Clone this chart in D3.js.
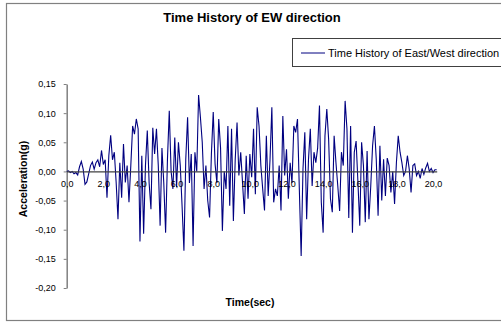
<!DOCTYPE html>
<html lang="en">
<head>
<meta charset="UTF-8">
<script src="https://cdnjs.cloudflare.com/ajax/libs/d3/7.8.5/d3.min.js"></script>
<title>Time History of EW direction</title>
<style>
  body { margin: 0; background: #fff; }
  text { font-family: "Liberation Sans", Arial, sans-serif; }
</style>
</head>
<body>
<svg id="chart" width="501" height="322"></svg>
<script>
// acceleration (g), sampled every 0.1 sec from 0.0 to 20.2
var dt = 0.1;
var accel = [
  0.000, 0.001, -0.002, 0.000, -0.004, -0.002, -0.006, 0.008, 0.017, 0.004,
  -0.022, -0.018, -0.004, 0.010, 0.016, 0.004, 0.015, 0.020, 0.008, 0.036,
  0.012, 0.020, -0.045, 0.027, 0.062, 0.020, 0.033, -0.019, -0.082, 0.015,
  -0.045, 0.047, -0.019, 0.010, -0.053, 0.010, 0.078, 0.064, 0.090, 0.073,
  -0.120, 0.027, -0.107, 0.010, 0.070, -0.020, -0.065, 0.075, 0.030, 0.073,
  0.010, -0.093, 0.040, -0.020, -0.105, 0.020, 0.104, 0.000, -0.030, 0.058,
  -0.027, 0.050, 0.010, -0.060, -0.136, 0.020, 0.093, -0.020, 0.030, -0.128,
  0.033, 0.000, 0.131, 0.093, 0.050, -0.030, 0.010, -0.050, -0.079, 0.030,
  0.102, 0.013, -0.020, 0.090, 0.040, -0.102, 0.000, -0.030, 0.078, -0.059,
  0.073, -0.085, 0.020, 0.084, -0.007, 0.033, -0.020, -0.073, 0.027, -0.047,
  0.030, -0.010, 0.073, -0.039, 0.110, 0.078, 0.010, -0.030, -0.067, 0.061,
  -0.042, 0.020, 0.110, -0.053, -0.030, -0.042, 0.010, -0.067, 0.095, -0.007,
  0.038, -0.047, 0.015, -0.020, 0.078, 0.067, 0.090, -0.030, -0.145, 0.004,
  0.067, -0.082, 0.020, 0.073, -0.025, 0.033, 0.015, 0.040, 0.113, -0.053,
  -0.105, 0.061, 0.107, 0.055, -0.047, -0.070, 0.061, 0.015, -0.025, -0.068,
  0.033, 0.010, 0.121, 0.073, -0.080, 0.078, -0.105, 0.033, 0.052, -0.019,
  -0.093, 0.050, 0.010, -0.087, 0.035, -0.082, -0.025, 0.044, 0.078, 0.021,
  -0.076, 0.044, -0.050, 0.021, -0.042, 0.023, 0.010, -0.036, 0.000, -0.056,
  0.015, 0.061, 0.033, 0.015, -0.007, 0.000, 0.027, 0.004, -0.036, 0.010,
  0.013, -0.007, 0.000, -0.012, 0.005, -0.005, 0.006, 0.014, 0.000, 0.005,
  -0.002, 0.003, 0.003
];
var xTicks = [0, 2, 4, 6, 8, 10, 12, 14, 16, 18, 20];
var yTicks = [0.15, 0.10, 0.05, 0.00, -0.05, -0.10, -0.15, -0.20];

var title = "Time History of EW direction";
var seriesName = "Time History of East/West direction";
var xLabel = "Time(sec)";
var yLabel = "Acceleration(g)";

var svg = d3.select("#chart");

// chart area border
svg.append("rect")
  .attr("x", 6.5).attr("y", 3.5)
  .attr("width", 500).attr("height", 317)
  .attr("fill", "#fff")
  .attr("stroke", "#808080")
  .attr("stroke-width", 1.2);

var x = d3.scaleLinear().domain([0, 20.2]).range([66.7, 436.7]);
var y = d3.scaleLinear().domain([-0.20, 0.15]).range([288, 84]);

var comma = function(fmt) {
  return function(d) { return d3.format(fmt)(d).replace(".", ",").replace("\u2212", "-"); };
};

// y axis
var ya = svg.append("g")
  .attr("transform", "translate(" + x(0) + ",0)")
  .call(d3.axisLeft(y).tickValues(yTicks).tickSize(3).tickSizeOuter(0).tickPadding(8).tickFormat(comma(".2f")));
ya.select(".domain").attr("stroke", "#808080").attr("stroke-width", 1.5);
ya.selectAll(".tick line").attr("stroke", "#808080");
ya.selectAll("text").attr("font-size", 9).attr("fill", "#000")
  .style("font-family", "'Liberation Sans', Arial, sans-serif");

// series line
var line = d3.line()
  .x(function(d, i) { return x(i * dt); })
  .y(function(d) { return y(d); });

svg.append("path")
  .datum(accel)
  .attr("fill", "none")
  .attr("stroke", "#000080")
  .attr("stroke-width", 1.1)
  .attr("d", line);

// x axis on the zero line
var xa = svg.append("g")
  .attr("transform", "translate(0," + y(0) + ")")
  .call(d3.axisBottom(x).tickValues(xTicks).tickSize(0).tickSizeOuter(0).tickPadding(9).tickFormat(comma(".1f")));
xa.select(".domain").attr("stroke", "#404040").attr("stroke-width", 1.2);
xa.selectAll("text").attr("font-size", 9).attr("fill", "#000")
  .style("font-family", "'Liberation Sans', Arial, sans-serif");

// title
svg.append("text")
  .attr("x", 252).attr("y", 22)
  .attr("text-anchor", "middle")
  .attr("font-size", 13).attr("font-weight", "bold")
  .text(title);

// axis titles
svg.append("text")
  .attr("x", 250).attr("y", 306)
  .attr("text-anchor", "middle")
  .attr("font-size", 10.5).attr("font-weight", "bold")
  .text(xLabel);

svg.append("text")
  .attr("transform", "translate(27,179) rotate(-90)")
  .attr("text-anchor", "middle")
  .attr("font-size", 10.5).attr("font-weight", "bold")
  .text(yLabel);

// legend
var lg = svg.append("g");
lg.append("rect")
  .attr("x", 292.5).attr("y", 38.5)
  .attr("width", 220).attr("height", 28)
  .attr("fill", "#fff").attr("stroke", "#404040");
lg.append("line")
  .attr("x1", 301).attr("x2", 325)
  .attr("y1", 53).attr("y2", 53)
  .attr("stroke", "#000080").attr("stroke-width", 1);
lg.append("text")
  .attr("x", 328).attr("y", 56.5)
  .attr("font-size", 11)
  .text(seriesName);
</script>
</body>
</html>
